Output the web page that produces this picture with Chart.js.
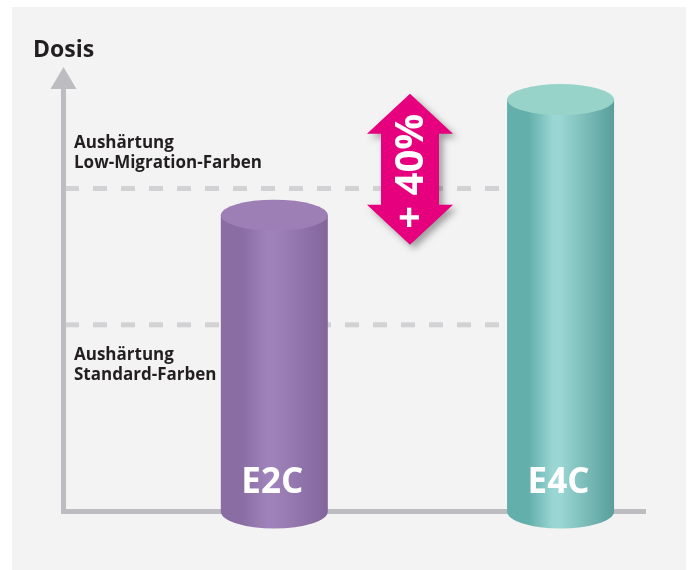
<!DOCTYPE html>
<html>
<head>
<meta charset="utf-8">
<script src="https://cdn.jsdelivr.net/npm/chart.js@4"></script>
<style>
  html, body { margin: 0; padding: 0; background: #ffffff; overflow: hidden; }
  #chart { display: block; }
</style>
</head>
<body>
<canvas id="chart" width="692" height="570"></canvas>
<script>
// Data
const categories = ['E2C', 'E4C'];
const doseValues = [100, 139];
const thresholdValues = [109, 63];
const thresholdLabels = [
    ['Aushärtung', 'Low-Migration-Farben'],
    ['Aushärtung', 'Standard-Farben']
];
const increaseRange = [90, 141];
const increaseLabel = '+ 40%';
const axisTitle = 'Dosis';

const FONT = '"Open Sans", "Noto Sans", sans-serif';
const TEXT_COLOR = '#231f20';
const AXIS_COLOR = '#bdbdc1';

// cylinder colours: [left, highlight, right, top]
const cylinderColors = [
    ['#896da3', '#9f82b9', '#81659b', '#9d7fb6'],
    ['#63afab', '#9ad6d3', '#589e9b', '#98d3c9']
];

function bodyGradient(ctx, left, right, c) {
    const g = ctx.createLinearGradient(left, 0, right, 0);
    g.addColorStop(0, c[0]);
    g.addColorStop(0.2, c[0]);
    g.addColorStop(0.43, c[1]);
    g.addColorStop(0.5, c[1]);
    g.addColorStop(1, c[2]);
    return g;
}

const decorPlugin = {
    id: 'decor',
    beforeDraw(chart) {
        const ctx = chart.ctx;
        ctx.save();
        ctx.fillStyle = '#f3f3f3';
        ctx.fillRect(12, 7, 674, 563);
        ctx.restore();
    },
    beforeDatasetsDraw(chart) {
        const ctx = chart.ctx;
        const area = chart.chartArea;
        const y = chart.scales.y;
        const meta = chart.getDatasetMeta(0);
        const lastBar = meta.data[meta.data.length - 1];
        ctx.save();

        // dashed threshold lines
        ctx.strokeStyle = '#d2d2d4';
        ctx.lineWidth = 5;
        ctx.setLineDash([14, 14]);
        thresholdValues.forEach(v => {
            const py = y.getPixelForValue(v);
            ctx.beginPath();
            ctx.moveTo(area.left + 1.5, py);
            ctx.lineTo(lastBar.x - lastBar.width / 2 + 2, py);
            ctx.stroke();
        });
        ctx.setLineDash([]);

        // threshold labels
        ctx.fillStyle = TEXT_COLOR;
        ctx.font = 'bold 17px ' + FONT;
        ctx.textAlign = 'left';
        ctx.textBaseline = 'alphabetic';
        thresholdLabels.forEach((lines, i) => {
            const py = y.getPixelForValue(thresholdValues[i]);
            const first = i === 0 ? py - 40.5 : py + 35;
            lines.forEach((t, k) => ctx.fillText(t, area.left + 10.5, first + k * 20.5));
        });

        // axes
        ctx.strokeStyle = AXIS_COLOR;
        ctx.lineWidth = 5;
        ctx.beginPath();
        ctx.moveTo(area.left, area.top + 21);
        ctx.lineTo(area.left, area.bottom + 2.5);
        ctx.moveTo(area.left - 2.5, area.bottom);
        ctx.lineTo(area.right, area.bottom);
        ctx.stroke();
        ctx.fillStyle = AXIS_COLOR;
        ctx.beginPath();
        ctx.moveTo(area.left, area.top);
        ctx.lineTo(area.left + 13, area.top + 22);
        ctx.lineTo(area.left - 13, area.top + 22);
        ctx.closePath();
        ctx.fill();

        // axis title
        ctx.fillStyle = TEXT_COLOR;
        ctx.font = 'bold 23px ' + FONT;
        ctx.fillText(axisTitle, 33, 57);
        ctx.restore();
    },
    afterDatasetsDraw(chart) {
        const ctx = chart.ctx;
        const meta = chart.getDatasetMeta(0);
        ctx.save();
        meta.data.forEach((bar, i) => {
            const c = cylinderColors[i];
            const left = bar.x - bar.width / 2;
            const right = bar.x + bar.width / 2;
            const rx = bar.width / 2;
            const topRy = 15.5;
            const botRy = 17;
            // body + bottom cap
            ctx.fillStyle = bodyGradient(ctx, left, right, c);
            ctx.beginPath();
            ctx.moveTo(left, bar.y);
            ctx.lineTo(left, bar.base);
            ctx.ellipse(bar.x, bar.base, rx, botRy, 0, Math.PI, 0, true);
            ctx.lineTo(right, bar.y);
            ctx.closePath();
            ctx.fill();
            // top cap
            ctx.fillStyle = c[3];
            ctx.beginPath();
            ctx.ellipse(bar.x, bar.y, rx, topRy, 0, 0, Math.PI * 2);
            ctx.fill();
            // category label inside the cylinder
            ctx.fillStyle = '#ffffff';
            ctx.font = 'bold 35px ' + FONT;
            ctx.textAlign = 'center';
            ctx.textBaseline = 'alphabetic';
            ctx.fillText(categories[i], bar.x - 2, bar.base - 18.5);
        });

        // pink +40% double arrow
        const x = chart.scales.x.getPixelForValue(0.474);
        const yTop = chart.scales.y.getPixelForValue(increaseRange[1]);
        const yBot = chart.scales.y.getPixelForValue(increaseRange[0]);
        const headW = 43, shaftW = 29, headH = 40;
        ctx.save();
        ctx.shadowColor = 'rgba(0,0,0,0.35)';
        ctx.shadowBlur = 7;
        ctx.shadowOffsetX = 4;
        ctx.shadowOffsetY = 4;
        ctx.fillStyle = '#e6007e';
        ctx.beginPath();
        ctx.moveTo(x, yTop);
        ctx.lineTo(x + headW, yTop + headH);
        ctx.lineTo(x + shaftW, yTop + headH);
        ctx.lineTo(x + shaftW, yBot - headH);
        ctx.lineTo(x + headW, yBot - headH);
        ctx.lineTo(x, yBot);
        ctx.lineTo(x - headW, yBot - headH);
        ctx.lineTo(x - shaftW, yBot - headH);
        ctx.lineTo(x - shaftW, yTop + headH);
        ctx.lineTo(x - headW, yTop + headH);
        ctx.closePath();
        ctx.fill();
        ctx.restore();

        ctx.translate(x + 13, (yTop + yBot) / 2 + 2);
        ctx.rotate(-Math.PI / 2);
        ctx.fillStyle = '#ffffff';
        ctx.font = 'bold 40px ' + FONT;
        ctx.textAlign = 'center';
        ctx.textBaseline = 'alphabetic';
        ctx.fillText(increaseLabel, 0, 0);
        ctx.restore();
    }
};

new Chart(document.getElementById('chart'), {
    type: 'bar',
    data: {
        datasets: [{
            label: axisTitle,
            data: doseValues.map((v, i) => ({ x: i, y: v })),
            backgroundColor: 'rgba(0,0,0,0)',
            borderWidth: 0,
            barThickness: 107
        }]
    },
    options: {
        responsive: false,
        animation: false,
        layout: { padding: { left: 63.5, right: 46, top: 67, bottom: 58.5 } },
        plugins: { legend: { display: false }, tooltip: { enabled: false } },
        scales: {
            x: { type: 'linear', offset: false, min: -0.7365, max: 1.2985, display: false },
            y: { min: 0, max: 150, display: false }
        }
    },
    plugins: [decorPlugin]
});
</script>
</body>
</html>
